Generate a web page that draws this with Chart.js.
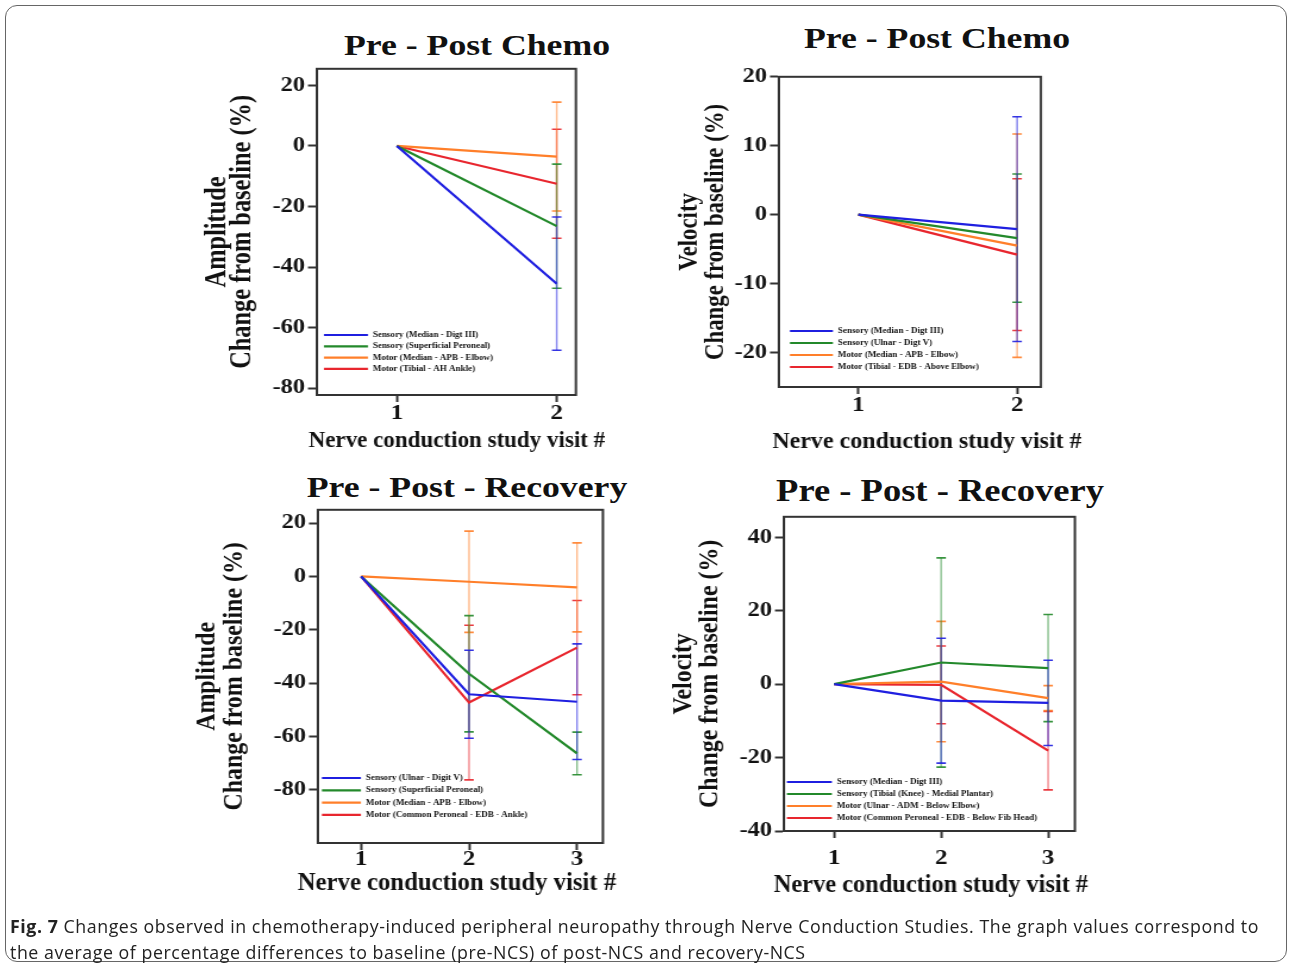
<!DOCTYPE html>
<html>
<head>
<meta charset="utf-8">
<script src="https://cdn.jsdelivr.net/npm/chart.js@4.4.1/dist/chart.umd.min.js"></script>
<style>
  html,body{margin:0;padding:0;background:#fff;}
  body{width:1292px;height:967px;position:relative;overflow:hidden;}
  .frame{position:absolute;left:5px;top:5px;width:1280px;height:955px;border:1.5px solid #666;border-radius:12px;}
  canvas{position:absolute;transform-origin:0 0;}
  .ttl{position:absolute;font-family:"Liberation Serif","Times New Roman",serif;font-weight:bold;color:#111;white-space:nowrap;line-height:1;transform:translate(-50%,-50%) scaleX(1.19);}
  .cap{position:absolute;left:10px;top:913px;font-family:"Open Sans","Noto Sans",sans-serif;font-size:17.8px;letter-spacing:0.55px;line-height:26px;color:#222;white-space:nowrap;}
</style>
</head>
<body>
<div class="frame"></div>
<div class="ttl" style="left:477px;top:45px;font-size:30px;">Pre - Post Chemo</div>
<div class="ttl" style="left:937px;top:38px;font-size:30px;">Pre - Post Chemo</div>
<div class="ttl" style="left:467px;top:487px;font-size:30px;">Pre - Post - Recovery</div>
<div class="ttl" style="left:940px;top:491px;font-size:30.7px;">Pre - Post - Recovery</div>
<canvas id="c1"></canvas>
<canvas id="c2"></canvas>
<canvas id="c3"></canvas>
<canvas id="c4"></canvas>
<div class="cap"><b>Fig. 7</b> Changes observed in chemotherapy-induced peripheral neuropathy through Nerve Conduction Studies. The graph values correspond to<br>the average of percentage differences to baseline (pre-NCS) of post-NCS and recovery-NCS</div>
<script>
// ---------- data ----------
const visits2 = [1, 2];
const visits3 = [1, 2, 3];
const seriesColors = ['#1f1fe0', '#23892b', '#ff7f2a', '#e8262e'];

// Panel 1: Pre - Post Chemo (Amplitude)
const p1Labels = ['Sensory (Median - Digt III)', 'Sensory (Superficial Peroneal)', 'Motor (Median - APB - Elbow)', 'Motor (Tibial - AH Ankle)'];
const p1Blue = [0, -45.5], p1BlueErr = [0, 22];
const p1Green = [0, -26.5], p1GreenErr = [0, 20.5];
const p1Orange = [0, -3.5], p1OrangeErr = [0, 18];
const p1Red = [0, -12.5], p1RedErr = [0, 18];
const p1YTicks = [20, 0, -20, -40, -60, -80];

// Panel 2: Pre - Post Chemo (Velocity)
const p2Labels = ['Sensory (Median - Digt III)', 'Sensory (Ulnar - Digt V)', 'Motor (Median - APB - Elbow)', 'Motor (Tibial - EDB - Above Elbow)'];
const p2Blue = [0, -2.1], p2BlueErr = [0, 16.3];
const p2Green = [0, -3.4], p2GreenErr = [0, 9.3];
const p2Orange = [0, -4.5], p2OrangeErr = [0, 16.2];
const p2Red = [0, -5.8], p2RedErr = [0, 11];
const p2YTicks = [20, 10, 0, -10, -20];

// Panel 3: Pre - Post - Recovery (Amplitude)
const p3Labels = ['Sensory (Ulnar - Digit V)', 'Sensory (Superficial Peroneal)', 'Motor (Median - APB - Elbow)', 'Motor (Common Peroneal - EDB - Ankle)'];
const p3Blue = [0, -44.2, -47], p3BlueErr = [0, 16.5, 21.7];
const p3Green = [0, -36.5, -66.4], p3GreenErr = [0, 21.8, 8];
const p3Orange = [0, -2, -4.1], p3OrangeErr = [0, 19, 16.7];
const p3Red = [0, -47.3, -26.7], p3RedErr = [0, 29, 17.7];
const p3YTicks = [20, 0, -20, -40, -60, -80];

// Panel 4: Pre - Post - Recovery (Velocity)
const p4Labels = ['Sensory (Median - Digt III)', 'Sensory (Tibial (Knee) - Medial Plantar)', 'Motor (Ulnar - ADM - Below Elbow)', 'Motor (Common Peroneal - EDB - Below Fib Head)'];
const p4Blue = [0, -4.5, -5.1], p4BlueErr = [0, 17, 11.6];
const p4Green = [0, 5.9, 4.4], p4GreenErr = [0, 28.5, 14.6];
const p4Orange = [0, 0.7, -3.8], p4OrangeErr = [0, 16.4, 3.4];
const p4Red = [0, -0.2, -18.1], p4RedErr = [0, 10.6, 10.7];
const p4YTicks = [40, 20, 0, -20, -40];

const xTitle = 'Nerve conduction study visit #';

// ---------- drawing helpers ----------
const SERIF = '"Liberation Serif","Times New Roman",serif';
const STRETCH = 1.19;   // horizontal stretch of the original figure

const boxPlugin = {
  id: 'boxPlugin',
  beforeDatasetsDraw(chart) {
    const {ctx} = chart;
    const ys = chart.scales.y, xs = chart.scales.x;
    for (let d = chart.data.datasets.length - 1; d >= 0; d--) {
      const ds = chart.data.datasets[d];
      ds.data.forEach((p, i) => {
        const e = ds.err[i];
        if (!e) return;
        const px = xs.getPixelForValue(p.x);
        const top = ys.getPixelForValue(p.y + e), bot = ys.getPixelForValue(p.y - e);
        ctx.save();
        ctx.strokeStyle = ds.borderColor;
        ctx.globalAlpha = 0.55;
        ctx.lineWidth = 1.4;
        ctx.beginPath(); ctx.moveTo(px, top); ctx.lineTo(px, bot); ctx.stroke();
        ctx.globalAlpha = 0.9;
        ctx.lineWidth = 1.6;
        ctx.beginPath();
        ctx.moveTo(px - 4, top); ctx.lineTo(px + 4, top);
        ctx.moveTo(px - 4, bot); ctx.lineTo(px + 4, bot);
        ctx.stroke();
        ctx.restore();
      });
    }
  },
  afterDraw(chart) {
    const {ctx, chartArea: a} = chart;
    const o = chart.options.plugins.panelExtras;
    ctx.save();
    ctx.strokeStyle = '#333';
    ctx.lineWidth = 2;
    ctx.strokeRect(a.left, a.top, a.right - a.left, a.bottom - a.top);
    // legend inside the plot area
    const lg = o.legend;
    ctx.font = 'bold ' + lg.size + 'px ' + SERIF;
    ctx.textBaseline = 'middle';
    ctx.textAlign = 'left';
    chart.data.datasets.forEach((ds, i) => {
      const y = a.bottom - lg.dy + i * lg.step;
      const x0 = a.left + lg.dx;
      ctx.strokeStyle = ds.borderColor;
      ctx.lineWidth = 2.2;
      ctx.beginPath(); ctx.moveTo(x0, y); ctx.lineTo(x0 + lg.len, y); ctx.stroke();
      ctx.fillStyle = '#111';
      ctx.fillText(ds.label, x0 + lg.len + 4.2, y);
    });
    // x axis title (not stretched in the original)
    ctx.translate(a.left + o.xTitleDx, o.xTitleY);
    ctx.scale(1 / STRETCH, 1);
    ctx.font = 'bold ' + o.xTitleSize + 'px ' + SERIF;
    ctx.textAlign = 'center';
    ctx.fillStyle = '#111';
    ctx.fillText(o.xTitleText, 0, 0);
    ctx.restore();
  }
};

function makePanel(id, geo, xs, labels, vals, errs, yMin, yMax, yTicks, xMin, xMax, yTitle, opt) {
  const s = STRETCH;
  const yw = 110, xh = 72, padTop = 10;
  const cw = (geo.R - geo.L) / s;
  const W = Math.ceil(yw + cw + 40);
  const padRight = W - yw - cw;
  const H = geo.B - geo.T + padTop + xh;
  const cv = document.getElementById(id);
  cv.width = W; cv.height = H;
  cv.style.width = W + 'px'; cv.style.height = H + 'px';
  cv.style.left = (geo.L - s * yw) + 'px';
  cv.style.top = (geo.T - padTop) + 'px';
  cv.style.transform = 'scaleX(' + s + ')';
  const yLh = opt.yTitleSize * opt.yLH;
  const yPad = yw - (geo.L - opt.yTitleX) / s - yLh / 2;
  const datasets = vals.map((v, i) => ({
    label: labels[i],
    data: xs.map((x, j) => ({x: x, y: v[j]})),
    err: errs[i],
    borderColor: seriesColors[i],
    backgroundColor: seriesColors[i],
    borderWidth: 2.2,
    pointRadius: 0,
    tension: 0
  }));
  return new Chart(cv, {
    type: 'line',
    data: {datasets},
    plugins: [boxPlugin],
    options: {
      responsive: false, animation: false, devicePixelRatio: 1,
      layout: {padding: {top: padTop, right: padRight, left: 0, bottom: 0}},
      plugins: {
        legend: {display: false}, tooltip: {enabled: false}, title: {display: false},
        panelExtras: {
          legend: {dx: (opt.legX - geo.L) / s, dy: geo.B - opt.legY, step: opt.legStep, len: opt.legLen / s, size: 7.6},
          xTitleText: xTitle, xTitleSize: opt.xTitleSize,
          xTitleDx: (opt.xTitleX - geo.L) / s, xTitleY: opt.xTitleY - (geo.T - padTop)
        }
      },
      scales: {
        x: {
          type: 'linear', min: xMin, max: xMax,
          afterBuildTicks: sc => { sc.ticks = xs.map(v => ({value: v})); },
          afterFit: sc => { sc.height = xh; },
          grid: {drawOnChartArea: false, drawTicks: true, tickLength: 7, tickWidth: 2, tickColor: '#333'},
          border: {display: true, color: '#333', width: 2},
          ticks: {font: {family: SERIF, weight: 'bold', size: 21}, color: '#111', padding: opt.xtPad, autoSkip: false, maxRotation: 0},
          title: {display: false}
        },
        y: {
          type: 'linear', min: yMin, max: yMax,
          afterBuildTicks: sc => { sc.ticks = yTicks.map(v => ({value: v})); },
          afterFit: sc => { sc.width = yw; },
          grid: {drawOnChartArea: false, drawTicks: true, tickLength: 7.5, tickWidth: 2, tickColor: '#333'},
          border: {display: true, color: '#333', width: 2},
          ticks: {font: {family: SERIF, weight: 'bold', size: 20.5}, color: '#111', padding: 2.5, autoSkip: false},
          title: {display: true, text: yTitle, color: '#111', font: {family: SERIF, weight: 'bold', size: opt.yTitleSize, lineHeight: opt.yLH}, padding: {top: yPad, bottom: 0}}
        }
      }
    }
  });
}

makePanel('c1', {L: 317, T: 64, R: 576, B: 395}, visits2, p1Labels,
  [p1Blue, p1Green, p1Orange, p1Red], [p1BlueErr, p1GreenErr, p1OrangeErr, p1RedErr],
  -82.3, 25.5, p1YTicks, 0.5, 2.12, ['Amplitude', 'Change from baseline (%)'],
  {legX: 324, legY: 335, legStep: 11.3, legLen: 44, xtPad: -1.5, xTitleSize: 23, xTitleX: 457, xTitleY: 441,
   yTitleSize: 24.4, yLH: 0.86, yTitleX: 218});

makePanel('c2', {L: 779, T: 72, R: 1041, B: 387}, visits2, p2Labels,
  [p2Blue, p2Green, p2Orange, p2Red], [p2BlueErr, p2GreenErr, p2OrangeErr, p2RedErr],
  -25, 20, p2YTicks, 0.5, 2.15, ['Velocity', 'Change from baseline (%)'],
  {legX: 790, legY: 331, legStep: 12, legLen: 43, xtPad: -1.5, xTitleSize: 24, xTitleX: 927, xTitleY: 442,
   yTitleSize: 22.8, yLH: 0.96, yTitleX: 690});

makePanel('c3', {L: 318, T: 505, R: 603, B: 843}, visits3, p3Labels,
  [p3Blue, p3Green, p3Orange, p3Red], [p3BlueErr, p3GreenErr, p3OrangeErr, p3RedErr],
  -100, 25, p3YTicks, 0.6, 3.24, ['Amplitude', 'Change from baseline (%)'],
  {legX: 322, legY: 778, legStep: 12.3, legLen: 39, xtPad: -3.5, xTitleSize: 24.7, xTitleX: 457, xTitleY: 884,
   yTitleSize: 23.9, yLH: 0.98, yTitleX: 207});

makePanel('c4', {L: 784, T: 512, R: 1075, B: 831}, visits3, p4Labels,
  [p4Blue, p4Green, p4Orange, p4Red], [p4BlueErr, p4GreenErr, p4OrangeErr, p4RedErr],
  -40, 45.6, p4YTicks, 0.53, 3.25, ['Velocity', 'Change from baseline (%)'],
  {legX: 787, legY: 782, legStep: 12, legLen: 45, xtPad: 7.5, xTitleSize: 24.4, xTitleX: 931, xTitleY: 886,
   yTitleSize: 23.9, yLH: 0.91, yTitleX: 684});
</script>
</body>
</html>
